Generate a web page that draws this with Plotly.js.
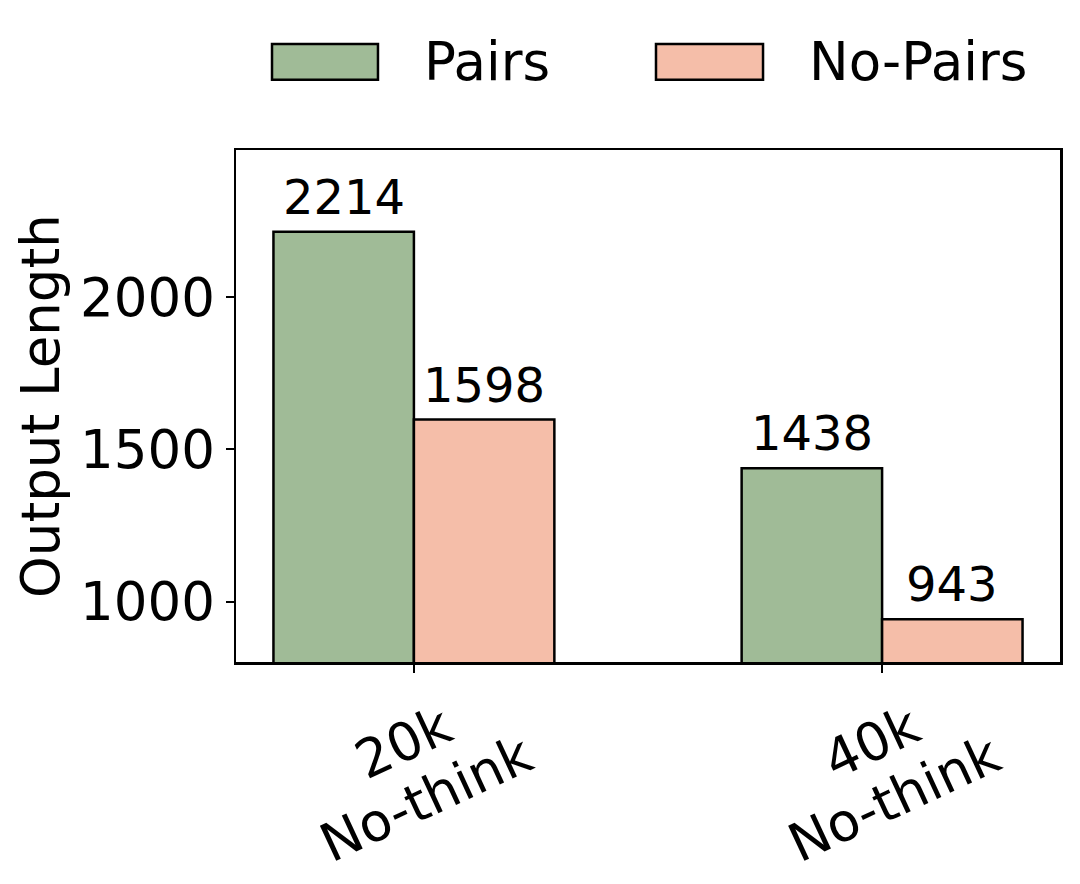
<!DOCTYPE html>
<html>
<head>
<meta charset="utf-8">
<script src="https://cdn.plot.ly/plotly-3.0.1.min.js"></script>
<style>body{margin:0;padding:0;background:#fff;}#chart{width:1080px;height:884px;}</style>
</head>
<body>
<div id="chart"></div>
<script>
const categories = ["20k\nNo-think", "40k\nNo-think"];
const seriesNames = ["Pairs", "No-Pairs"];
const pairsValues = [2214, 1438];
const noPairsValues = [1598, 943];
const colors = ["#a0bb97", "#f5bea9"];

const catIdx = categories.map((c, i) => i);
const FONT = "DejaVu Sans, Liberation Sans, sans-serif";
const series = [pairsValues, noPairsValues];
const offsets = [-0.15, 0.15];

const traces = series.map((vals, s) => ({
  type: "bar",
  name: seriesNames[s],
  x: catIdx.map(i => i + offsets[s]),
  y: vals,
  width: 0.3,
  base: 0,
  marker: {color: colors[s], line: {color: "#000", width: 2.5}},
  showlegend: false,
  hoverinfo: "x+y"
}));

const annotations = [];
series.forEach((vals, s) => {
  vals.forEach((v, i) => {
    annotations.push({
      x: i + offsets[s], y: v, xref: "x", yref: "y",
      text: String(v), showarrow: false,
      xanchor: "center", yanchor: "bottom", yshift: 5,
      font: {family: FONT, size: 48, color: "#000"}
    });
  });
});
// rotated multi-line category labels (one annotation per line, matplotlib-style spacing)
const lineShifts = [[-11, -80], [12, -136]];
categories.forEach((c, i) => {
  c.split("\n").forEach((line, k) => {
    annotations.push({
      x: i, y: 0, xref: "x", yref: "paper",
      text: line, showarrow: false,
      textangle: -25, xanchor: "center", yanchor: "middle",
      xshift: lineShifts[k][0], yshift: lineShifts[k][1],
      font: {family: FONT, size: 53, color: "#000"}
    });
  });
});

// manual legend
const legendX = [[0.0437, 0.1723, 0.2257], [0.5097, 0.6396, 0.693]];
const shapes = [];
seriesNames.forEach((n, s) => {
  shapes.push({
    type: "rect", xref: "paper", yref: "paper",
    x0: legendX[s][0], x1: legendX[s][1], y0: 1.137, y1: 1.207,
    fillcolor: colors[s], line: {color: "#000", width: 2.5}
  });
  annotations.push({
    x: legendX[s][2], y: 1.172, xref: "paper", yref: "paper",
    text: n, showarrow: false, xanchor: "left", yanchor: "middle",
    font: {family: FONT, size: 53, color: "#000"}
  });
});

const layout = {
  width: 1080, height: 884,
  margin: {l: 236, r: 20, t: 150, b: 222, pad: 0},
  paper_bgcolor: "#fff", plot_bgcolor: "#fff",
  showlegend: false,
  font: {family: FONT, color: "#000"},
  xaxis: {
    range: [-0.38, 1.38], tickvals: catIdx, ticktext: catIdx.map(() => ""),
    showticklabels: false, ticks: "outside", ticklen: 8, tickwidth: 2, tickcolor: "#000",
    showline: true, linewidth: 2.5, linecolor: "#000", mirror: true,
    showgrid: false, zeroline: false, fixedrange: true
  },
  yaxis: {
    range: [803, 2482], dtick: 500, tick0: 0,
    ticks: "outside", ticklen: 8, tickwidth: 2, tickcolor: "#000",
    tickfont: {family: FONT, size: 53, color: "#000"},
    showline: true, linewidth: 2.5, linecolor: "#000", mirror: true,
    showgrid: false, zeroline: false, automargin: false,
    title: {text: "Output Length", font: {family: FONT, size: 53, color: "#000"}, standoff: 4}
  },
  annotations: annotations,
  shapes: shapes
};

Plotly.newPlot("chart", traces, layout, {displayModeBar: false, staticPlot: true});
</script>
</body>
</html>
